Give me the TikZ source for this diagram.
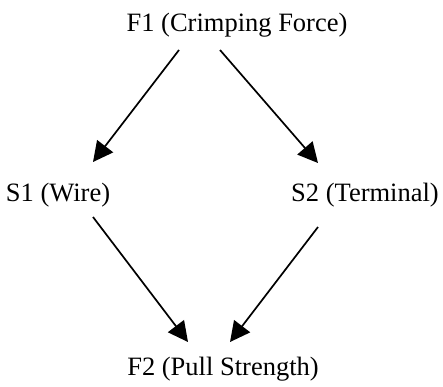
\documentclass[tikz,border=0pt]{standalone}
\usepackage{fontspec}
\setmainfont{Liberation Serif}
\usetikzlibrary{arrows.meta,calc}
\begin{document}
\begin{tikzpicture}[x=1pt,y=-1pt,
  lbl/.style={inner sep=0pt,anchor=base,font=\fontsize{26.5}{30}\selectfont},
  arr/.style={line width=1.7pt,-{Triangle[length=20pt,width=20pt]}}]
\useasboundingbox (0,0) rectangle (443,386);
\node[lbl] (F1) at (237,31) {F1 (Crimping Force)};
\node[lbl] (S1) at (58,201) {S1 (Wire)};
\node[lbl] (S2) at (365,201) {S2 (Terminal)};
\node[lbl] (F2) at (223,375) {F2 (Pull Strength)};
\draw[arr] ($(F1.base)+(-58,19)$) -- ($(S1.base)+(35,-39)$);
\draw[arr] ($(F1.base)+(-17,19)$) -- ($(S2.base)+(-47,-38)$);
\draw[arr] ($(S1.base)+(35,16)$) -- ($(F2.base)+(-35,-33)$);
\draw[arr] ($(S2.base)+(-47,26)$) -- ($(F2.base)+(7,-33)$);
\end{tikzpicture}
\end{document}
